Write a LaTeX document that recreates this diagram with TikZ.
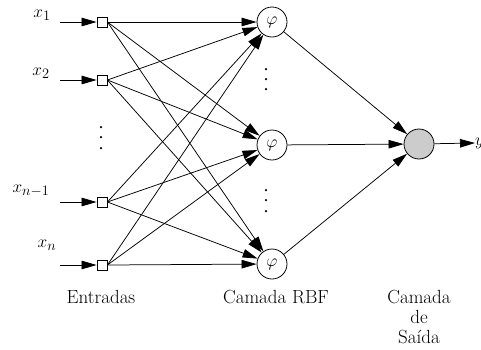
\documentclass[tikz,border=0pt]{standalone}
\usetikzlibrary{arrows.meta}
\begin{document}
\begin{tikzpicture}[x=1pt,y=-1pt,
  every node/.style={font=\fontsize{19}{20}\selectfont},
  inbox/.style={draw,line width=0.8pt,minimum size=10pt,inner sep=0pt},
  rbf/.style={draw,line width=0.8pt,circle,minimum size=30pt,inner sep=0pt},
  outn/.style={draw,line width=0.8pt,circle,minimum size=30pt,inner sep=0pt,fill=black!20},
  lbl/.style={inner sep=0pt},
  arr/.style={line width=0.75pt,-{Triangle[length=15pt,width=8.5pt]}},
  dotm/.style={fill,circle,inner sep=0pt,minimum size=2.5pt}]
\useasboundingbox (0,0) rectangle (481,349);
% input squares
\node[inbox] (s1) at (102,22) {};
\node[inbox] (s2) at (102,80) {};
\node[inbox] (s3) at (102,202) {};
\node[inbox] (s4) at (102,265) {};
% input starts
\coordinate (i1) at (60,22);
\coordinate (i2) at (60,80);
\coordinate (i3) at (60,202);
\coordinate (i4) at (60,265);
\draw[arr] (i1) -- (s1);
\draw[arr] (i2) -- (s2);
\draw[arr] (i3) -- (s3);
\draw[arr] (i4) -- (s4);
% labels
\node[lbl] (l1) at (42,15) {$x_1$};
\node[lbl] (l2) at (41,73) {$x_2$};
\node[lbl] (l3) at (31,191) {$x_{n-1}$};
\node[lbl] (l4) at (47,245) {$x_n$};
% vertical dots
\node[dotm] (d1) at (101,127) {};
\node[dotm] (d2) at (101,137) {};
\node[dotm] (d3) at (101,148) {};
% RBF
\node[rbf] (r1) at (272,22) {$\varphi$};
\node[rbf] (r2) at (272,145) {$\varphi$};
\node[rbf] (r3) at (272,264) {$\varphi$};
\node[dotm] (e1) at (266,69) {};
\node[dotm] (e2) at (266,79) {};
\node[dotm] (e3) at (266,89) {};
\node[dotm] (f1) at (266,190) {};
\node[dotm] (f2) at (266,200) {};
\node[dotm] (f3) at (266,211) {};
% connections
\foreach \s in {s1,s2,s3,s4}
  \foreach \r in {r1,r2,r3}
    \draw[arr] (\s.east) -- (\r);
% output
\node[outn] (o) at (419,144) {};
\foreach \r in {r1,r2,r3}
  \draw[arr] (\r) -- (o);
\node[lbl,anchor=west] (y) at (475,143) {$y$};
\draw[arr] (o) -- (y.west);
% bottom labels
\node (t1) at (101,297) {Entradas};
\node (t2) at (276,297) {Camada RBF};
\node[align=center] (t3) at (419,317) {Camada\\de\\Saída};
\end{tikzpicture}
\end{document}
